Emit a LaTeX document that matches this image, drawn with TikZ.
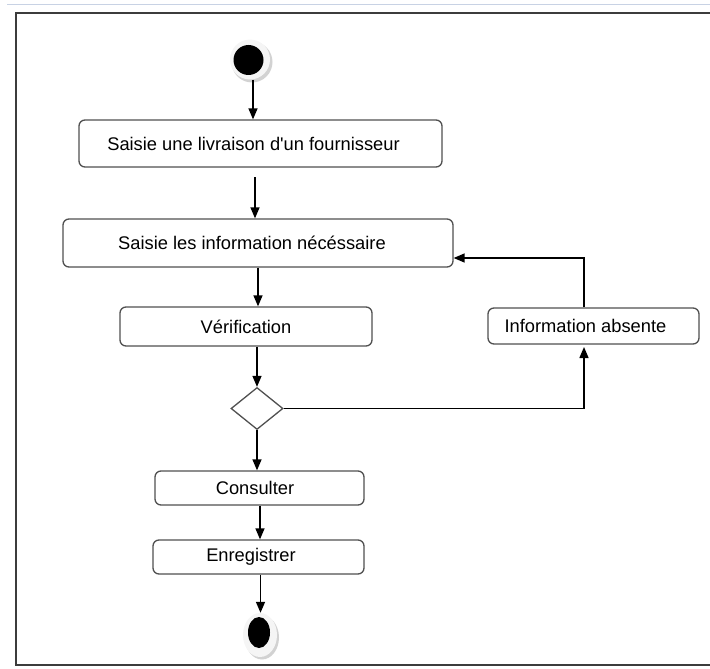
\documentclass[tikz,border=0pt]{standalone}
\usepackage{fontspec}
\setmainfont{Liberation Sans}[Ligatures=TeXOff]
\usetikzlibrary{arrows.meta,shapes.geometric}
\definecolor{boxgray}{RGB}{80,80,80}
\definecolor{framegray}{RGB}{60,60,60}
\definecolor{rulebl}{RGB}{200,210,228}
\begin{document}
\begin{tikzpicture}[x=1pt,y=-1pt,
  act/.style={draw=boxgray, line width=1.3pt, rounded corners=6pt, fill=white,
    inner sep=0pt, font=\fontsize{18.3}{20}\selectfont},
  decision/.style={draw=boxgray, line width=1.3pt, diamond, fill=white, inner sep=0pt,
    minimum width=52pt, minimum height=42pt},
  flow/.style={line width=1.4pt, -{Triangle[length=11pt,width=9pt]}},
  halo/.style={circle, fill=gray!8, inner sep=0pt}
]
\useasboundingbox (0,0) rectangle (710,669);

% window rule and frame
\draw[line width=1.3pt, rulebl] (7,4.5) -- (710,4.5);
\draw[line width=2pt, framegray] (710,13) -- (16,13) -- (16,665) -- (710,665);

% initial node
\fill[gray!35] (252,62) circle (20.5);
\node[halo, minimum size=40pt] (sh) at (250,59.5) {};
\node[circle, fill=black, inner sep=0pt, minimum size=30pt] (start) at (248.5,60) {};

% activities
\node[act, minimum width=363pt, minimum height=47pt] (B1) at (260.5,143.5)
  {\hspace*{-14pt}Saisie une livraison d'un fournisseur};
\node[act, minimum width=390pt, minimum height=48pt] (B2) at (258,243)
  {\hspace*{-12pt}Saisie les information nécéssaire};
\node[act, minimum width=252pt, minimum height=39pt] (V) at (246,326.5)
  {Vérification};
\node[act, minimum width=211pt, minimum height=36pt] (I) at (593.5,326)
  {\hspace*{-16pt}Information absente};
\node[decision] (D) at (257,408.5) {};
\node[act, minimum width=209pt, minimum height=34pt] (C) at (259.5,488)
  {\hspace*{-9pt}Consulter};
\node[act, minimum width=211pt, minimum height=34pt] (E) at (258.5,557)
  {\hspace*{-15pt}Enregistrer};

% final node
\fill[gray!35] (262,637.5) ellipse (17 and 22);
\node[ellipse, fill=gray!8, inner sep=0pt, minimum width=34pt, minimum height=44pt] (eh) at (260,635) {};
\node[ellipse, fill=black, inner sep=0pt, minimum width=22pt, minimum height=31pt] (fin) at (259,632.5) {};

% control flow
\coordinate (s0) at (253,80);
\coordinate (c1) at (255,177);
\coordinate (c2) at (258,0);
\coordinate (c3) at (260,0);
\coordinate (c4) at (260.5,0);
\coordinate (c6) at (584,347);
\coordinate (c7) at (584,258);

\draw[flow] (s0) -- (s0 |- B1.north);
\draw[flow] (c1) -- (c1 |- B2.north);
\draw[flow] (c2 |- B2.south) -- (c2 |- V.north);
\draw[flow] (D.north |- V.south) -- (D.north);
\draw[flow] (D.south) -- (D.south |- C.north);
\draw[flow] (c3 |- C.south) -- (c3 |- E.north);
\draw[flow] (c4 |- E.south) -- (c4 |- eh.north);
\draw[flow] (D.east) -- (D.east -| c6) -- (c6);
\draw[flow] (c7 |- I.north) -- (c7) -- (c7 -| B2.east);
\end{tikzpicture}
\end{document}
